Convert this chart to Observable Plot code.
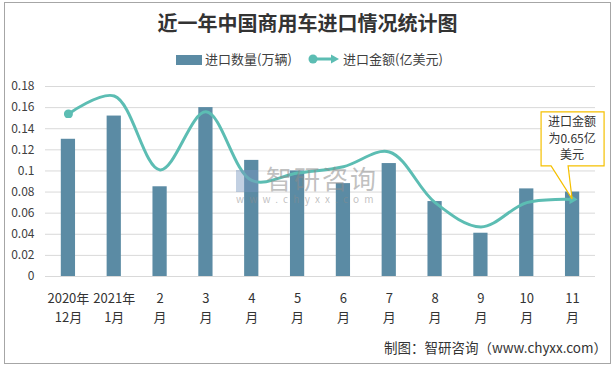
<!DOCTYPE html>
<html><head><meta charset="utf-8">
<script src="https://cdn.jsdelivr.net/npm/d3@7"></script>
<script src="https://cdn.jsdelivr.net/npm/@observablehq/plot@0.6"></script>
<style>
body{margin:0;background:#fff;}
#wrap{position:relative;width:615px;height:368px;overflow:hidden;font-family:"Noto Sans CJK SC","Noto Sans",sans-serif;color:#404040;}
#border{position:absolute;left:4px;top:2px;width:607px;height:362px;border:1px solid #a6a6a6;box-sizing:border-box;}
#title{position:absolute;left:0;top:8px;width:615px;text-align:center;font-size:20px;font-weight:bold;line-height:30px;color:#333;}
.leg{position:absolute;top:50px;font-size:13px;line-height:18px;}
#chart{position:absolute;left:0;top:70px;}
#caption{position:absolute;right:8px;top:337px;font-size:13.5px;line-height:20px;color:#333;}
#wm{position:absolute;left:236px;top:166px;color:rgba(140,140,140,0.55);pointer-events:none;}
</style></head>
<body><div id="wrap">
<div id="border"></div>
<div id="title">近一年中国商用车进口情况统计图</div>
<div id="legend"></div>
<div id="chart"></div>
<div id="wm"><div style="font-size:26px;line-height:24px;height:24px;letter-spacing:2px;overflow:visible;"><span style="display:inline-block;width:22px;height:22px;background:rgba(120,150,190,0.45);vertical-align:-3px;margin-right:8px;"></span>智研咨询</div><div style="font-size:10px;letter-spacing:5.2px;line-height:12px;margin-top:3px;">www.chyxx.com</div></div>
<div id="caption">制图：智研咨询（www.chyxx.com）</div>
</div>
<script>
const months = ["2020年\n12月","2021年\n1月","2\n月","3\n月","4\n月","5\n月","6\n月","7\n月","8\n月","9\n月","10\n月","11\n月"];
const volume = [0.13,0.152,0.085,0.16,0.11,0.1,0.088,0.107,0.071,0.041,0.083,0.08];
const amount = [0.154,0.171,0.101,0.156,0.091,0.098,0.104,0.118,0.070,0.047,0.070,0.073];
const yTicks = [0,0.02,0.04,0.06,0.08,0.1,0.12,0.14,0.16,0.18];
const seriesNames = ["进口数量(万辆)","进口金额(亿美元)"];
const calloutLines = ["进口金额","为0.65亿","美元"];

const barColor = "#5b8ba4";
const lineColor = "#5cbdb3";

const rows = months.map((m,i)=>({i, m, v: volume[i], a: amount[i]}));
const idx = rows.map(d => d.i);

const chart = Plot.plot({
  width: 615, height: 260,
  marginLeft: 45, marginRight: 20, marginTop: 16, marginBottom: 54,
  style: {fontFamily: "'Noto Sans CJK SC','Noto Sans',sans-serif", fontSize: "12px", color: "#404040", background: "transparent"},
  x: {type: "linear", domain: [-0.5, months.length - 0.5], label: null, axis: null},
  y: {domain: [0, 0.18], label: null, axis: null},
  marks: [
    Plot.ruleY(yTicks, {stroke: "#d9d9d9", strokeWidth: 1}),
    Plot.rectY(rows, {x1: d => d.i - 0.5, x2: d => d.i + 0.5, y: "v", fill: barColor, insetLeft: 15.8, insetRight: 15.8}),
    Plot.line(rows, {x: "i", y: "a", stroke: lineColor, strokeWidth: 3, curve: "catmull-rom"}),
    Plot.axisY({ticks: yTicks, tickSize: 0, tickPadding: 11, fontSize: 12, fill: "#404040", tickFormat: d => String(+d.toFixed(2))}),
    Plot.axisX({ticks: idx, tickSize: 0, tickPadding: 13, fontSize: 13, lineHeight: 1.45, fill: "#333", tickFormat: i => months[i]})
  ]
});
document.getElementById("chart").appendChild(chart);

const svg = d3.select(chart);
const xs = chart.scale("x"), ys = chart.scale("y");
// line end markers
const defs = svg.append("defs");
defs.append("marker").attr("id","mdot").attr("viewBox","-5 -5 10 10").attr("markerWidth",9).attr("markerHeight",9).attr("markerUnits","userSpaceOnUse")
  .append("circle").attr("r",5).attr("fill",lineColor);
defs.append("marker").attr("id","marr").attr("viewBox","-5 -5 10 10").attr("markerWidth",10).attr("markerHeight",10).attr("markerUnits","userSpaceOnUse").attr("orient","auto").attr("refX",0)
  .append("path").attr("d","M-3,-5L5,0L-3,5Z").attr("fill",lineColor);
svg.selectAll(`g[stroke="${lineColor}"] path`).attr("marker-start","url(#mdot)").attr("marker-end","url(#marr)");

// callout anchored on the last amount point
const last = months.length - 1;
const px = xs.apply(last), py = ys.apply(amount[last]);
const bx0 = px - 31, bx1 = px + 32, by0 = py - 87, by1 = py - 33;
const g = svg.append("g");
g.append("path").attr("d", `M${bx0},${by0}H${bx1}V${by1}H${px-4}L${px},${py}L${px-21},${by1}H${bx0}Z`)
  .attr("fill", "#fff").attr("stroke", "#f5c000").attr("stroke-width", 1.2);
calloutLines.forEach((t, i) => {
  g.append("text").attr("x", px).attr("y", by0 + 11 + i * 16.5).attr("text-anchor", "middle").attr("dominant-baseline", "middle")
   .attr("font-size", 12).attr("fill", "#333").text(t);
});

// legend
document.getElementById("legend").innerHTML =
`<div class="leg" style="left:176px"><span style="display:inline-block;width:26px;height:10px;background:${barColor};vertical-align:-1px;margin-right:3px;"></span>${seriesNames[0]}</div>
<div class="leg" style="left:308px"><svg width="32" height="12" style="vertical-align:-1px;margin-right:3px"><line x1="5" y1="6" x2="26" y2="6" stroke="${lineColor}" stroke-width="3"/><circle cx="5" cy="6" r="4.5" fill="${lineColor}"/><path d="M23,1.5L31,6L23,10.5Z" fill="${lineColor}"/></svg>${seriesNames[1]}</div>`;
</script>
</body></html>
